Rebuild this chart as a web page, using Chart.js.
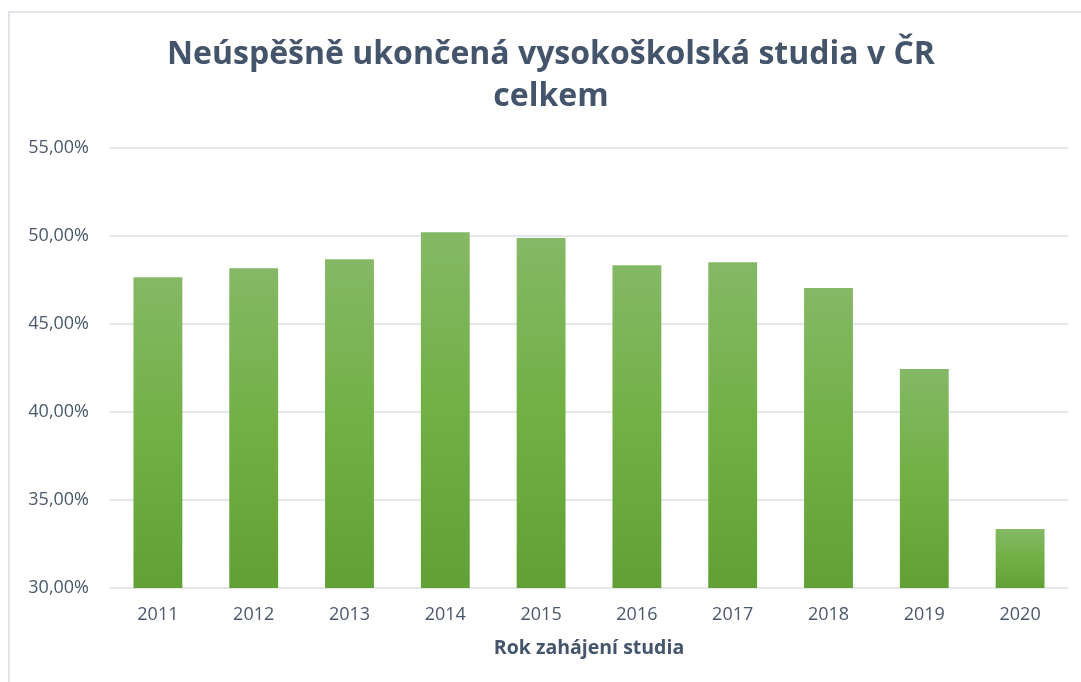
<!DOCTYPE html>
<html>
<head>
<meta charset="utf-8">
<script src="https://cdn.jsdelivr.net/npm/chart.js@4.4.1/dist/chart.umd.min.js"></script>
<style>
  html, body { margin: 0; padding: 0; background: #ffffff; overflow: hidden; }
  #frame { position: absolute; left: 8px; top: 11px; width: 2000px; height: 2000px;
           border: 2px solid #e1e5ea; box-sizing: border-box; }
  #wrap { position: absolute; left: 0; top: 0; width: 1081px; height: 682px; }
</style>
</head>
<body>
<div id="frame"></div>
<div id="wrap"><canvas id="c" width="1081" height="682"></canvas></div>
<script>
const categories = ['2011','2012','2013','2014','2015','2016','2017','2018','2019','2020'];
const failedShare = [47.66, 48.17, 48.68, 50.22, 49.88, 48.34, 48.51, 47.04, 42.44, 33.35];
const titleLines = ['Neúspěšně ukončená vysokoškolská studia v ČR', 'celkem'];
const xAxisTitle = 'Rok zahájení studia';
const yMin = 30, yMax = 55, yStep = 5;

const textColor = '#44546a';
const tickColor = '#4a586d';
const fontFamily = '"Open Sans", sans-serif';

function barGradient(context) {
  const chart = context.chart;
  const area = chart.chartArea;
  if (!area || context.type !== 'data') return '#70ad47';
  const y = chart.scales.y;
  const top = y.getPixelForValue(context.raw);
  const bottom = y.getPixelForValue(yMin);
  if (!isFinite(top) || !isFinite(bottom) || top === bottom) return '#70ad47';
  const g = chart.ctx.createLinearGradient(0, top, 0, bottom);
  g.addColorStop(0, '#85b866');
  g.addColorStop(0.5, '#71b044');
  g.addColorStop(1, '#61a034');
  return g;
}

// Chart title drawn centred on the chart frame (as in the original)
const frameTitle = {
  id: 'frameTitle',
  afterDraw(chart) {
    const c = chart.ctx;
    c.save();
    c.font = 'bold 32px ' + fontFamily;
    c.fillStyle = textColor;
    c.textAlign = 'center';
    c.textBaseline = 'middle';
    titleLines.forEach((t, i) => c.fillText(t, 551, 55 + i * 42));
    c.restore();
  }
};

new Chart(document.getElementById('c'), {
  type: 'bar',
  data: {
    labels: categories,
    datasets: [{
      data: failedShare,
      backgroundColor: barGradient,
      borderWidth: 0,
      categoryPercentage: 1,
      barPercentage: 0.51
    }]
  },
  options: {
    responsive: false,
    animation: false,
    devicePixelRatio: 1,
    layout: { padding: { left: 10, right: 13, top: 148, bottom: 12 } },
    plugins: {
      legend: { display: false },
      tooltip: { enabled: false },
      title: { display: false }
    },
    scales: {
      x: {
        afterFit: (s) => { s.height = 82; },
        grid: { display: false, drawTicks: false },
        border: { display: false },
        ticks: { color: tickColor, font: { family: fontFamily, size: 18 }, padding: 16 },
        title: {
          display: true,
          text: xAxisTitle,
          color: textColor,
          font: { family: fontFamily, size: 19.5, weight: 'bold', lineHeight: 1.2 },
          padding: { top: 0, bottom: 10 }
        }
      },
      y: {
        min: yMin,
        max: yMax,
        afterFit: (s) => { s.width = 100; },
        grid: { color: '#e3e7ec', lineWidth: 2, drawTicks: false },
        border: { display: false },
        ticks: {
          stepSize: yStep,
          color: tickColor,
          font: { family: fontFamily, size: 18 },
          padding: 21,
          callback: (v) => v.toFixed(2).replace('.', ',') + '%'
        }
      }
    }
  },
  plugins: [frameTitle]
});
</script>
</body>
</html>
